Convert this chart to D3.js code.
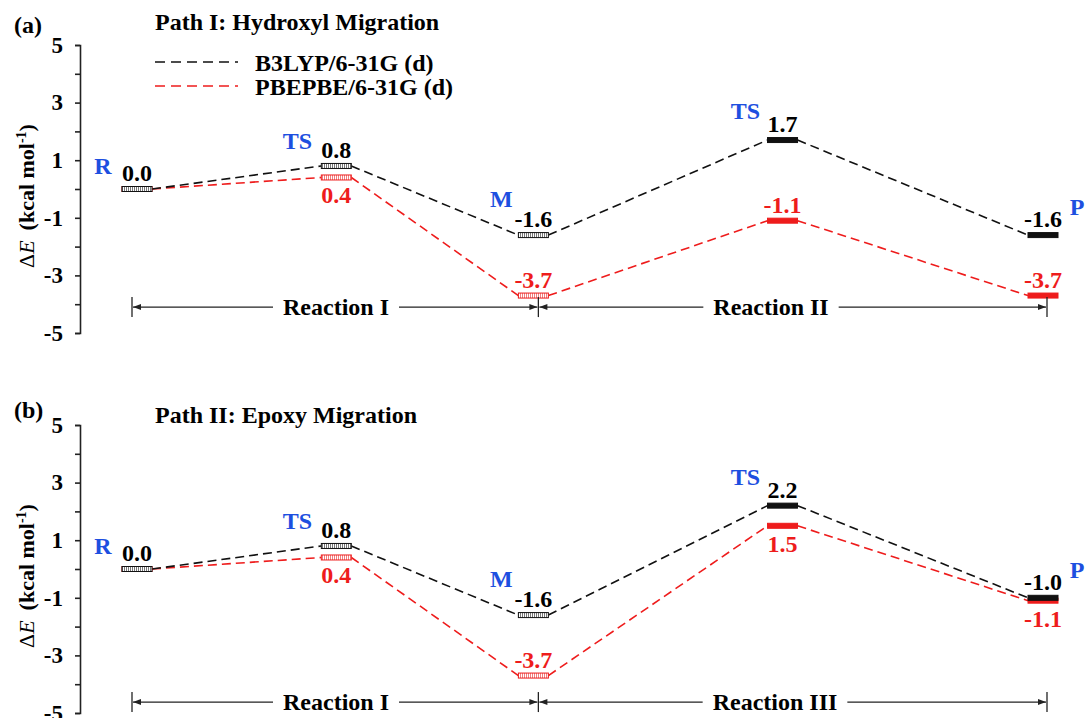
<!DOCTYPE html>
<html>
<head>
<meta charset="utf-8">
<script src="https://cdn.jsdelivr.net/npm/d3@7"></script>
<style>
  html, body { margin: 0; padding: 0; background: #fff; }
  svg { display: block; }
  svg text { font-family: "Liberation Serif", "Times New Roman", "DejaVu Serif", serif; font-weight: bold; }
</style>
</head>
<body>
<svg id="chart" width="1085" height="718"></svg>
<script>
// Stationary points along each migration path
const stages = ["R", "TS", "M", "TS", "P"];
// Reaction coordinate of each stationary point
const reactionCoord = [0, 0.88, 1.75, 2.85, 4];
const yTicks = [5, 4, 3, 2, 1, 0, -1, -2, -3, -4, -5];
const yTickLabels = ["5", "", "3", "", "1", "", "-1", "", "-3", "", "-5"];
const methods = ["B3LYP/6-31G (d)", "PBEPBE/6-31G (d)"];

// Path I: Hydroxyl migration (kcal/mol)
const pathI_B3LYP = [0.0, 0.8, -1.6, 1.7, -1.6];
const pathI_PBEPBE = [0.0, 0.4, -3.7, -1.1, -3.7];
// Path II: Epoxy migration (kcal/mol)
const pathII_B3LYP = [0.0, 0.8, -1.6, 2.2, -1.0];
const pathII_PBEPBE = [0.0, 0.4, -3.7, 1.5, -1.1];

const reactionsI = ["Reaction I", "Reaction II"];
const reactionsII = ["Reaction I", "Reaction III"];

const svg = d3.select("#chart");
const BLACK = "#111";
const RED = "#ee1c1c";
const BLUE = "#1d4fe0";

// hatched level-bar fills
const defs = svg.append("defs");
[["hatchK", "#777"], ["hatchR", "#f08080"]].forEach(([id, c]) => {
  const p = defs.append("pattern").attr("id", id).attr("patternUnits", "userSpaceOnUse")
    .attr("width", 2).attr("height", 4);
  p.append("rect").attr("width", 2).attr("height", 4).attr("fill", "#fff");
  p.append("rect").attr("width", 1).attr("height", 4).attr("fill", c);
});

const x = d3.scaleLinear().domain([0, 4]).range([137, 1043]);

function panel(cfg) {
  const g = svg.append("g");
  const y = d3.scaleLinear().domain([-5, 5]).range([cfg.top + 288, cfg.top]);

  // y axis
  const axis = d3.axisLeft(y).tickValues(yTicks)
    .tickFormat((d, i) => yTickLabels[i]).tickSize(5).tickPadding(12);
  const ga = g.append("g").attr("transform", "translate(80,0)").call(axis)
    .attr("font-family", null).attr("font-size", null);
  ga.select(".domain").attr("stroke", "#222").attr("stroke-width", 1.6);
  ga.selectAll(".tick line").attr("stroke", "#222").attr("stroke-width", 1.6);
  ga.selectAll(".tick text").attr("fill", "#000").style("font-size", "23px");

  // axis title
  const t = g.append("text")
    .attr("transform", `translate(34,${cfg.top + 151}) rotate(-90)`)
    .attr("text-anchor", "middle").style("font-size", "22px").attr("fill", "#000");
  t.append("tspan").text("\u0394").style("font-weight", "normal");
  t.append("tspan").text("E").style("font-style", "italic").style("font-weight", "normal");
  t.append("tspan").text("\u2009 (kcal mol");
  t.append("tspan").text("-1").attr("dy", -8).style("font-size", "14px");
  t.append("tspan").text(")").attr("dy", 8);

  // panel letter and title
  g.append("text").attr("x", 14).attr("y", cfg.letterY).style("font-size", "24px").text(cfg.letter);
  g.append("text").attr("x", 155).attr("y", cfg.titleY).style("font-size", "24px").text(cfg.title);

  // energy profiles
  const series = [
    { vals: cfg.b3, color: BLACK, hatch: "url(#hatchK)" },
    { vals: cfg.pbe, color: RED, hatch: "url(#hatchR)" }
  ];
  const half = 15;
  // red drawn first so black lies above where they coincide
  series.slice().reverse().forEach(s => {
    const segs = d3.pairs(s.vals.map((v, i) => [reactionCoord[i], v]));
    g.append("g").selectAll("line").data(segs).join("line")
      .attr("x1", d => x(d[0][0]) + half).attr("y1", d => y(d[0][1]))
      .attr("x2", d => x(d[1][0]) - half).attr("y2", d => y(d[1][1]))
      .attr("stroke", s.color).attr("stroke-width", 1.6).attr("stroke-dasharray", "9,5");
  });
  series.slice().reverse().forEach(s => {
    g.append("g").selectAll("rect").data(s.vals).join("rect")
      .attr("x", (d, i) => x(reactionCoord[i]) - half)
      .attr("y", d => y(d) - 2.5)
      .attr("width", half * 2).attr("height", 5)
      .attr("fill", (d, i) => i < 3 ? s.hatch : s.color)
      .attr("stroke", s.color).attr("stroke-width", 1);
  });

  // value labels
  g.append("g").selectAll("text").data(cfg.b3).join("text")
    .attr("x", (d, i) => x(reactionCoord[i])).attr("y", d => y(d) - 8)
    .attr("text-anchor", "middle").style("font-size", "24px").attr("fill", "#000")
    .text(d => d.toFixed(1));
  g.append("g").selectAll("text").data(cfg.pbe).join("text")
    .filter((d, i) => i > 0)
    .attr("x", (d, i) => x(reactionCoord[i + 1]))
    .attr("y", (d, i) => cfg.redBelow[i + 1] ? y(d) + 26 : y(d) - 8)
    .attr("text-anchor", "middle").style("font-size", "24px").attr("fill", RED)
    .text(d => d.toFixed(1));

  // stage names
  const nameOff = [[-34, -15], [-39, -17], [-32, -28], [-37, -21], [34, -20]];
  g.append("g").selectAll("text").data(stages).join("text")
    .attr("x", (d, i) => x(reactionCoord[i]) + nameOff[i][0])
    .attr("y", (d, i) => y(Math.max(cfg.b3[i], cfg.pbe[i])) + nameOff[i][1])
    .attr("text-anchor", "middle").style("font-size", "24px").attr("fill", BLUE)
    .text(d => d);

  // reaction ranges
  const ay = y(cfg.arrowAt);
  const xs = [x(reactionCoord[0]) - 5, x(reactionCoord[2]) + 5, x(reactionCoord[4]) + 4];
  const ag = g.append("g").attr("stroke", "#222").attr("stroke-width", 1.3);
  xs.forEach(xx => ag.append("line").attr("x1", xx).attr("x2", xx).attr("y1", ay - 10).attr("y2", ay + 10));
  const labelX = [336, 771 + cfg.r2shift];
  cfg.reactions.forEach((name, k) => {
    const a = xs[k], b = xs[k + 1];
    const txt = g.append("text").attr("x", labelX[k]).attr("y", ay + 8)
      .attr("text-anchor", "middle").style("font-size", "24px").attr("fill", "#000").text(name);
    const w = txt.node().getComputedTextLength();
    const l = labelX[k] - w / 2 - 10, r = labelX[k] + w / 2 + 10;
    ag.append("line").attr("x1", a + 1).attr("x2", l).attr("y1", ay).attr("y2", ay);
    ag.append("line").attr("x1", r).attr("x2", b - 1).attr("y1", ay).attr("y2", ay);
    g.append("path").attr("d", `M${a + 1},${ay} l8,-3 v6 z`).attr("fill", "#222");
    g.append("path").attr("d", `M${b - 1},${ay} l-8,-3 v6 z`).attr("fill", "#222");
  });

  return g;
}

panel({
  top: 45, letter: "(a)", title: "Path I: Hydroxyl Migration", letterY: 33, titleY: 30,
  b3: pathI_B3LYP, pbe: pathI_PBEPBE,
  redBelow: [false, true, false, false, false],
  arrowAt: -4.1, reactions: reactionsI, r2shift: 0
});
panel({
  top: 425, letter: "(b)", title: "Path II: Epoxy Migration", letterY: 418, titleY: 423,
  b3: pathII_B3LYP, pbe: pathII_PBEPBE,
  redBelow: [false, true, false, true, true],
  arrowAt: -4.62, reactions: reactionsII, r2shift: 4
});

// legend
const legend = svg.append("g");
[[BLACK, 62, 71], [RED, 86, 95]].forEach(([c, ly, ty], i) => {
  legend.append("line").attr("x1", 155).attr("x2", 238).attr("y1", ly).attr("y2", ly)
    .attr("stroke", c).attr("stroke-width", 1.6).attr("stroke-dasharray", "10,6");
  legend.append("text").attr("x", 255).attr("y", ty).style("font-size", "24px")
    .attr("fill", "#000").text(methods[i]);
});
</script>
</body>
</html>
